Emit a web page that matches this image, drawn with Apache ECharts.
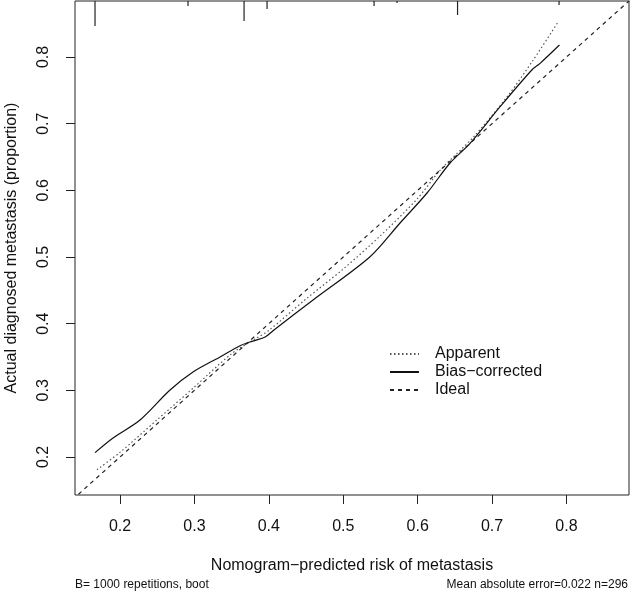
<!DOCTYPE html>
<html>
<head>
<meta charset="utf-8">
<script src="https://cdn.jsdelivr.net/npm/echarts@6/dist/echarts.min.js"></script>
<style>
  html, body { margin: 0; padding: 0; background: #fff; }
  #chart { width: 630px; height: 592px; }
</style>
</head>
<body>
<div id="chart"></div>
<script>
// calibration curves
const apparentX = [0.169, 0.20, 0.25, 0.30, 0.35, 0.38, 0.40, 0.45, 0.50, 0.55, 0.60, 0.63, 0.675, 0.72, 0.755, 0.789]
const apparentY = [0.181, 0.207, 0.256, 0.305, 0.355, 0.376, 0.390, 0.437, 0.482, 0.532, 0.588, 0.630, 0.680, 0.740, 0.795, 0.853]
const biasX = [0.1664, 0.1906, 0.2269, 0.2672, 0.2981, 0.3344, 0.3613, 0.3747, 0.395, 0.4056, 0.4594, 0.536, 0.5763, 0.6126, 0.6435, 0.6704, 0.7108, 0.7534, 0.7645, 0.7905]
const biasY = [0.2065, 0.2285, 0.2555, 0.3005, 0.3275, 0.350, 0.367, 0.3725, 0.380, 0.3895, 0.4355, 0.5004, 0.551, 0.596, 0.641, 0.6705, 0.7254, 0.7805, 0.7905, 0.818]
const idealX = [0, 1]
// distribution of predicted risk (spikes along the top)
const rugX = [0.1664, 0.2914, 0.3667, 0.3976, 0.5414, 0.5723, 0.6536, 0.790]
const rugCount = [25, 5, 20, 8, 5, 2, 14, 4]
const xTicks = [0.2, 0.3, 0.4, 0.5, 0.6, 0.7, 0.8]
const yTicks = [0.2, 0.3, 0.4, 0.5, 0.6, 0.7, 0.8]

const X_MIN = 0.1395, X_MAX = 0.884
const Y_MIN = 0.143, Y_MAX = 0.884
const font = 'Liberation Sans, Arial, sans-serif'

const zip = (xs, ys) => xs.map((x, i) => [x, ys[i]])
const rugMax = Math.max(...rugCount)

const chart = echarts.init(document.getElementById('chart'))
chart.setOption({
  animation: false,
  grid: {
    left: 75, right: 1, top: 1, bottom: 97,
    outerBoundsMode: 'none',
    show: true, borderColor: '#222', borderWidth: 1
  },
  legend: {
    data: ['Apparent', 'Bias\u2212corrected', 'Ideal'],
    orient: 'vertical',
    left: 384, top: 341,
    itemWidth: 29, itemHeight: 16, itemGap: 2,
    itemStyle: { opacity: 0 },
    textStyle: { fontFamily: font, fontSize: 16, color: '#111', padding: [0, 0, 0, 11] }
  },
  xAxis: {
    type: 'value', min: X_MIN, max: X_MAX,
    name: 'Nomogram\u2212predicted risk of metastasis',
    nameLocation: 'middle', nameGap: 63,
    nameTextStyle: { fontFamily: font, fontSize: 16, color: '#111' },
    axisLine: { show: false },
    axisTick: { show: true, length: 9, lineStyle: { color: '#222' }, customValues: xTicks },
    axisLabel: {
      fontFamily: font, fontSize: 16, color: '#111', margin: 24,
      customValues: xTicks, formatter: v => v.toFixed(1)
    },
    splitLine: { show: false }
  },
  yAxis: {
    type: 'value', min: Y_MIN, max: Y_MAX,
    name: 'Actual diagnosed metastasis (proportion)',
    nameLocation: 'middle', nameGap: 55,
    nameTextStyle: { fontFamily: font, fontSize: 16, color: '#111' },
    axisLine: { show: false },
    axisTick: { show: true, length: 9, lineStyle: { color: '#222' }, customValues: yTicks },
    axisLabel: {
      fontFamily: font, fontSize: 16, color: '#111', margin: 23, rotate: 90,
      customValues: yTicks, formatter: v => v.toFixed(1)
    },
    splitLine: { show: false }
  },
  series: [
    {
      name: 'Apparent', type: 'line', data: zip(apparentX, apparentY),
      symbol: 'none', smooth: 0.3,
      lineStyle: { color: '#555', width: 1.2, type: [1.5, 2.5] },
      itemStyle: { color: '#555' }
    },
    {
      name: 'Bias\u2212corrected', type: 'line', data: zip(biasX, biasY),
      symbol: 'none', smooth: 0.3,
      lineStyle: { color: '#111', width: 1.2, type: 'solid' },
      itemStyle: { color: '#111' }
    },
    {
      name: 'Ideal', type: 'line', data: zip(idealX, idealX),
      symbol: 'none', clip: true,
      lineStyle: { color: '#222', width: 1.2, type: [4, 4] },
      itemStyle: { color: '#222' }
    },
    {
      name: 'rug', type: 'custom', data: zip(rugX, rugCount), clip: true,
      renderItem: (params, api) => {
        const top = api.coord([api.value(0), Y_MAX])
        const bot = api.coord([api.value(0), Y_MAX - api.value(1) / rugMax * 0.0375])
        return {
          type: 'line',
          shape: { x1: top[0], y1: top[1], x2: bot[0], y2: bot[1] },
          style: { stroke: '#222', lineWidth: 1.2 }
        }
      }
    }
  ],
  graphic: [
    {
      type: 'text', left: 75, top: 579,
      style: { text: 'B= 1000 repetitions, boot', fontFamily: font, fontSize: 12, fill: '#111' }
    },
    {
      type: 'text', right: 2, top: 579,
      style: { text: 'Mean absolute error=0.022 n=296', fontFamily: font, fontSize: 12, fill: '#111' }
    }
  ]
})
</script>
</body>
</html>
